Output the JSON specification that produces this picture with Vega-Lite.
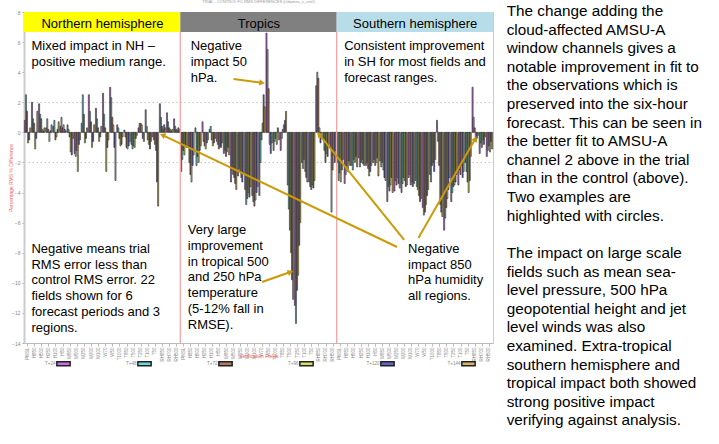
{
"$schema": "https://vega.github.io/schema/vega-lite/v6.json",
"width": 469, "height": 331,
"padding": {"left": 8, "top": 0, "right": 0, "bottom": 0},
"background": "white",
"title": {"text": "TRIAL - CONTROL FC RMS DIFFERENCES (cldamsu_v_cntrl)", "fontSize": 4, "color": "#999", "fontWeight": "normal", "offset": 0, "anchor": "middle"},
"config": {"view": {"stroke": "#ccc"}, "font": "Liberation Sans", "axis": {"labelOverlap": false}},
"datasets": {
"bars": [
{"field":"NH PMSL","period":"T+24","value":0.8},{"field":"NH PMSL","period":"T+48","value":2.5},{"field":"NH PMSL","period":"T+72","value":1.4},{"field":"NH PMSL","period":"T+96","value":-0.7},{"field":"NH PMSL","period":"T+120","value":-0.5},{"field":"NH PMSL","period":"T+144","value":0.3},
{"field":"NH H850","period":"T+24","value":2.0},{"field":"NH H850","period":"T+48","value":0.9},{"field":"NH H850","period":"T+72","value":0.6},{"field":"NH H850","period":"T+96","value":-1.1},{"field":"NH H850","period":"T+120","value":-0.4},{"field":"NH H850","period":"T+144","value":1.4},
{"field":"NH H500","period":"T+24","value":1.9},{"field":"NH H500","period":"T+48","value":1.2},{"field":"NH H500","period":"T+72","value":0.9},{"field":"NH H500","period":"T+96","value":0.2},{"field":"NH H500","period":"T+120","value":0.1},{"field":"NH H500","period":"T+144","value":0.3},
{"field":"NH H250","period":"T+24","value":0.3},{"field":"NH H250","period":"T+48","value":0.9},{"field":"NH H250","period":"T+72","value":0.2},{"field":"NH H250","period":"T+96","value":-0.6},{"field":"NH H250","period":"T+120","value":0.1},{"field":"NH H250","period":"T+144","value":0.5},
{"field":"NH H100","period":"T+24","value":0.4},{"field":"NH H100","period":"T+48","value":0.8},{"field":"NH H100","period":"T+72","value":-0.5},{"field":"NH H100","period":"T+96","value":-0.3},{"field":"NH H100","period":"T+120","value":0.2},{"field":"NH H100","period":"T+144","value":0.7},
{"field":"NH H50","period":"T+24","value":0.4},{"field":"NH H50","period":"T+48","value":1.0},{"field":"NH H50","period":"T+72","value":0.3},{"field":"NH H50","period":"T+96","value":0.5},{"field":"NH H50","period":"T+120","value":0.2},{"field":"NH H50","period":"T+144","value":0.1},
{"field":"NH W850","period":"T+24","value":0.5},{"field":"NH W850","period":"T+48","value":0.2},{"field":"NH W850","period":"T+72","value":-0.3},{"field":"NH W850","period":"T+96","value":-1.3},{"field":"NH W850","period":"T+120","value":-1.5},{"field":"NH W850","period":"T+144","value":-0.4},
{"field":"NH W500","period":"T+24","value":-1.4},{"field":"NH W500","period":"T+48","value":-1.6},{"field":"NH W500","period":"T+72","value":-1.2},{"field":"NH W500","period":"T+96","value":-2.6},{"field":"NH W500","period":"T+120","value":-0.8},{"field":"NH W500","period":"T+144","value":-0.5},
{"field":"NH W250","period":"T+24","value":0.6},{"field":"NH W250","period":"T+48","value":2.5},{"field":"NH W250","period":"T+72","value":1.2},{"field":"NH W250","period":"T+96","value":-0.7},{"field":"NH W250","period":"T+120","value":-0.4},{"field":"NH W250","period":"T+144","value":0.3},
{"field":"NH W200","period":"T+24","value":2.5},{"field":"NH W200","period":"T+48","value":1.4},{"field":"NH W200","period":"T+72","value":0.7},{"field":"NH W200","period":"T+96","value":-1.0},{"field":"NH W200","period":"T+120","value":-0.6},{"field":"NH W200","period":"T+144","value":0.5},
{"field":"NH W100","period":"T+24","value":1.6},{"field":"NH W100","period":"T+48","value":0.9},{"field":"NH W100","period":"T+72","value":0.3},{"field":"NH W100","period":"T+96","value":-0.6},{"field":"NH W100","period":"T+120","value":-0.3},{"field":"NH W100","period":"T+144","value":0.4},
{"field":"NH W70","period":"T+24","value":2.6},{"field":"NH W70","period":"T+48","value":1.2},{"field":"NH W70","period":"T+72","value":0.3},{"field":"NH W70","period":"T+96","value":-2.6},{"field":"NH W70","period":"T+120","value":-1.0},{"field":"NH W70","period":"T+144","value":-0.5},
{"field":"NH W50","period":"T+24","value":3.0},{"field":"NH W50","period":"T+48","value":2.3},{"field":"NH W50","period":"T+72","value":1.0},{"field":"NH W50","period":"T+96","value":0.5},{"field":"NH W50","period":"T+120","value":-1.0},{"field":"NH W50","period":"T+144","value":-3.2},
{"field":"NH T1000","period":"T+24","value":0.5},{"field":"NH T1000","period":"T+48","value":0.3},{"field":"NH T1000","period":"T+72","value":-0.4},{"field":"NH T1000","period":"T+96","value":-0.9},{"field":"NH T1000","period":"T+120","value":-0.8},{"field":"NH T1000","period":"T+144","value":-0.3},
{"field":"NH T850","period":"T+24","value":0.15},{"field":"NH T850","period":"T+48","value":-0.3},{"field":"NH T850","period":"T+72","value":-1.0},{"field":"NH T850","period":"T+96","value":-1.1},{"field":"NH T850","period":"T+120","value":-0.9},{"field":"NH T850","period":"T+144","value":-0.6},
{"field":"NH T500","period":"T+24","value":-0.8},{"field":"NH T500","period":"T+48","value":-1.1},{"field":"NH T500","period":"T+72","value":-0.9},{"field":"NH T500","period":"T+96","value":-1.0},{"field":"NH T500","period":"T+120","value":-0.4},{"field":"NH T500","period":"T+144","value":-0.2},
{"field":"NH T250","period":"T+24","value":0.3},{"field":"NH T250","period":"T+48","value":0.6},{"field":"NH T250","period":"T+72","value":0.6},{"field":"NH T250","period":"T+96","value":0.5},{"field":"NH T250","period":"T+120","value":-0.4},{"field":"NH T250","period":"T+144","value":-0.6},
{"field":"NH T100","period":"T+24","value":1.5},{"field":"NH T100","period":"T+48","value":0.4},{"field":"NH T100","period":"T+72","value":-0.5},{"field":"NH T100","period":"T+96","value":-0.8},{"field":"NH T100","period":"T+120","value":-1.1},{"field":"NH T100","period":"T+144","value":-0.6},
{"field":"NH T50","period":"T+24","value":-0.3},{"field":"NH T50","period":"T+48","value":-0.5},{"field":"NH T50","period":"T+72","value":-0.8},{"field":"NH T50","period":"T+96","value":-1.2},{"field":"NH T50","period":"T+120","value":-3.3},{"field":"NH T50","period":"T+144","value":-4.9},
{"field":"NH RH850","period":"T+24","value":1.9},{"field":"NH RH850","period":"T+48","value":1.0},{"field":"NH RH850","period":"T+72","value":0.4},{"field":"NH RH850","period":"T+96","value":0.2},{"field":"NH RH850","period":"T+120","value":0.5},{"field":"NH RH850","period":"T+144","value":0.3},
{"field":"NH RH700","period":"T+24","value":1.3},{"field":"NH RH700","period":"T+48","value":0.7},{"field":"NH RH700","period":"T+72","value":0.3},{"field":"NH RH700","period":"T+96","value":0.2},{"field":"NH RH700","period":"T+120","value":0.1},{"field":"NH RH700","period":"T+144","value":0.2},
{"field":"NH RH500","period":"T+24","value":0.9},{"field":"NH RH500","period":"T+48","value":0.4},{"field":"NH RH500","period":"T+72","value":0.2},{"field":"NH RH500","period":"T+96","value":0.1},{"field":"NH RH500","period":"T+120","value":0.3},{"field":"NH RH500","period":"T+144","value":0.2},
{"field":"TR PMSL","period":"T+24","value":-2.6},{"field":"TR PMSL","period":"T+48","value":-1.8},{"field":"TR PMSL","period":"T+72","value":-1.2},{"field":"TR PMSL","period":"T+96","value":-1.5},{"field":"TR PMSL","period":"T+120","value":-0.8},{"field":"TR PMSL","period":"T+144","value":-1.0},
{"field":"TR H850","period":"T+24","value":-1.0},{"field":"TR H850","period":"T+48","value":-2.0},{"field":"TR H850","period":"T+72","value":-2.8},{"field":"TR H850","period":"T+96","value":-3.3},{"field":"TR H850","period":"T+120","value":-2.2},{"field":"TR H850","period":"T+144","value":-1.5},
{"field":"TR H500","period":"T+24","value":0.3},{"field":"TR H500","period":"T+48","value":-2.2},{"field":"TR H500","period":"T+72","value":-1.6},{"field":"TR H500","period":"T+96","value":-2.0},{"field":"TR H500","period":"T+120","value":-1.2},{"field":"TR H500","period":"T+144","value":-0.9},
{"field":"TR H250","period":"T+24","value":0.7},{"field":"TR H250","period":"T+48","value":-0.6},{"field":"TR H250","period":"T+72","value":-0.9},{"field":"TR H250","period":"T+96","value":-1.1},{"field":"TR H250","period":"T+120","value":-0.7},{"field":"TR H250","period":"T+144","value":-0.5},
{"field":"TR H100","period":"T+24","value":0.2},{"field":"TR H100","period":"T+48","value":0.4},{"field":"TR H100","period":"T+72","value":-0.5},{"field":"TR H100","period":"T+96","value":-0.9},{"field":"TR H100","period":"T+120","value":-0.7},{"field":"TR H100","period":"T+144","value":-0.4},
{"field":"TR H50","period":"T+24","value":-0.6},{"field":"TR H50","period":"T+48","value":-0.8},{"field":"TR H50","period":"T+72","value":-1.1},{"field":"TR H50","period":"T+96","value":-0.9},{"field":"TR H50","period":"T+120","value":-1.0},{"field":"TR H50","period":"T+144","value":-0.7},
{"field":"TR W850","period":"T+24","value":-1.4},{"field":"TR W850","period":"T+48","value":-1.2},{"field":"TR W850","period":"T+72","value":-1.6},{"field":"TR W850","period":"T+96","value":-1.3},{"field":"TR W850","period":"T+120","value":-1.0},{"field":"TR W850","period":"T+144","value":-1.5},
{"field":"TR W500","period":"T+24","value":-3.3},{"field":"TR W500","period":"T+48","value":-2.5},{"field":"TR W500","period":"T+72","value":-2.8},{"field":"TR W500","period":"T+96","value":-3.0},{"field":"TR W500","period":"T+120","value":-3.4},{"field":"TR W500","period":"T+144","value":-3.8},
{"field":"TR W250","period":"T+24","value":-2.9},{"field":"TR W250","period":"T+48","value":-2.4},{"field":"TR W250","period":"T+72","value":-2.6},{"field":"TR W250","period":"T+96","value":-3.0},{"field":"TR W250","period":"T+120","value":-3.3},{"field":"TR W250","period":"T+144","value":-2.7},
{"field":"TR W200","period":"T+24","value":-3.8},{"field":"TR W200","period":"T+48","value":-4.8},{"field":"TR W200","period":"T+72","value":-4.4},{"field":"TR W200","period":"T+96","value":-4.0},{"field":"TR W200","period":"T+120","value":-4.3},{"field":"TR W200","period":"T+144","value":-3.6},
{"field":"TR W100","period":"T+24","value":-4.2},{"field":"TR W100","period":"T+48","value":-4.6},{"field":"TR W100","period":"T+72","value":-4.9},{"field":"TR W100","period":"T+96","value":-4.5},{"field":"TR W100","period":"T+120","value":-4.0},{"field":"TR W100","period":"T+144","value":-3.6},
{"field":"TR W70","period":"T+24","value":-4.2},{"field":"TR W70","period":"T+48","value":-2.0},{"field":"TR W70","period":"T+72","value":-0.5},{"field":"TR W70","period":"T+96","value":0.6},{"field":"TR W70","period":"T+120","value":2.5},{"field":"TR W70","period":"T+144","value":1.7},
{"field":"TR W50","period":"T+24","value":6.6},{"field":"TR W50","period":"T+48","value":5.5},{"field":"TR W50","period":"T+72","value":2.9},{"field":"TR W50","period":"T+96","value":-0.8},{"field":"TR W50","period":"T+120","value":-1.4},{"field":"TR W50","period":"T+144","value":-0.7},
{"field":"TR T1000","period":"T+24","value":-1.2},{"field":"TR T1000","period":"T+48","value":-0.6},{"field":"TR T1000","period":"T+72","value":-0.4},{"field":"TR T1000","period":"T+96","value":-0.8},{"field":"TR T1000","period":"T+120","value":0.3},{"field":"TR T1000","period":"T+144","value":-0.5},
{"field":"TR T850","period":"T+24","value":-1.2},{"field":"TR T850","period":"T+48","value":-0.4},{"field":"TR T850","period":"T+72","value":0.2},{"field":"TR T850","period":"T+96","value":0.5},{"field":"TR T850","period":"T+120","value":0.8},{"field":"TR T850","period":"T+144","value":1.4},
{"field":"TR T500","period":"T+24","value":-3.5},{"field":"TR T500","period":"T+48","value":-5.1},{"field":"TR T500","period":"T+72","value":-6.5},{"field":"TR T500","period":"T+96","value":-8.0},{"field":"TR T500","period":"T+120","value":-9.8},{"field":"TR T500","period":"T+144","value":-11.1},
{"field":"TR T250","period":"T+24","value":-11.5},{"field":"TR T250","period":"T+48","value":-12.7},{"field":"TR T250","period":"T+72","value":-10.5},{"field":"TR T250","period":"T+96","value":-9.5},{"field":"TR T250","period":"T+120","value":-7.5},{"field":"TR T250","period":"T+144","value":-6.0},
{"field":"TR T100","period":"T+24","value":-2.0},{"field":"TR T100","period":"T+48","value":-2.4},{"field":"TR T100","period":"T+72","value":-1.8},{"field":"TR T100","period":"T+96","value":-2.6},{"field":"TR T100","period":"T+120","value":-3.0},{"field":"TR T100","period":"T+144","value":-3.3},
{"field":"TR T50","period":"T+24","value":-3.3},{"field":"TR T50","period":"T+48","value":-3.6},{"field":"TR T50","period":"T+72","value":-3.8},{"field":"TR T50","period":"T+96","value":-3.5},{"field":"TR T50","period":"T+120","value":-3.7},{"field":"TR T50","period":"T+144","value":-3.2},
{"field":"TR RH850","period":"T+24","value":3.1},{"field":"TR RH850","period":"T+48","value":4.0},{"field":"TR RH850","period":"T+72","value":3.6},{"field":"TR RH850","period":"T+96","value":0.3},{"field":"TR RH850","period":"T+120","value":-0.7},{"field":"TR RH850","period":"T+144","value":-0.4},
{"field":"TR RH700","period":"T+24","value":-0.5},{"field":"TR RH700","period":"T+48","value":-1.2},{"field":"TR RH700","period":"T+72","value":-2.0},{"field":"TR RH700","period":"T+96","value":-1.4},{"field":"TR RH700","period":"T+120","value":-1.6},{"field":"TR RH700","period":"T+144","value":-0.8},
{"field":"TR RH500","period":"T+24","value":-1.0},{"field":"TR RH500","period":"T+48","value":-5.3},{"field":"TR RH500","period":"T+72","value":-2.5},{"field":"TR RH500","period":"T+96","value":-1.5},{"field":"TR RH500","period":"T+120","value":-2.0},{"field":"TR RH500","period":"T+144","value":-1.2},
{"field":"SH PMSL","period":"T+24","value":-2.0},{"field":"SH PMSL","period":"T+48","value":-3.2},{"field":"SH PMSL","period":"T+72","value":-2.7},{"field":"SH PMSL","period":"T+96","value":-3.3},{"field":"SH PMSL","period":"T+120","value":-2.5},{"field":"SH PMSL","period":"T+144","value":-1.8},
{"field":"SH H850","period":"T+24","value":-3.4},{"field":"SH H850","period":"T+48","value":-2.8},{"field":"SH H850","period":"T+72","value":-2.2},{"field":"SH H850","period":"T+96","value":-2.6},{"field":"SH H850","period":"T+120","value":-1.9},{"field":"SH H850","period":"T+144","value":-2.2},
{"field":"SH H500","period":"T+24","value":-2.2},{"field":"SH H500","period":"T+48","value":-2.5},{"field":"SH H500","period":"T+72","value":-1.8},{"field":"SH H500","period":"T+96","value":-2.0},{"field":"SH H500","period":"T+120","value":-1.6},{"field":"SH H500","period":"T+144","value":-2.3},
{"field":"SH H250","period":"T+24","value":-1.7},{"field":"SH H250","period":"T+48","value":-2.3},{"field":"SH H250","period":"T+72","value":-2.0},{"field":"SH H250","period":"T+96","value":-1.8},{"field":"SH H250","period":"T+120","value":-2.1},{"field":"SH H250","period":"T+144","value":-2.2},
{"field":"SH H100","period":"T+24","value":-2.2},{"field":"SH H100","period":"T+48","value":-2.0},{"field":"SH H100","period":"T+72","value":-2.4},{"field":"SH H100","period":"T+96","value":-2.9},{"field":"SH H100","period":"T+120","value":-2.6},{"field":"SH H100","period":"T+144","value":-2.2},
{"field":"SH H50","period":"T+24","value":-2.0},{"field":"SH H50","period":"T+48","value":-1.8},{"field":"SH H50","period":"T+72","value":-2.2},{"field":"SH H50","period":"T+96","value":-2.0},{"field":"SH H50","period":"T+120","value":-1.7},{"field":"SH H50","period":"T+144","value":-2.9},
{"field":"SH W850","period":"T+24","value":-1.9},{"field":"SH W850","period":"T+48","value":-2.3},{"field":"SH W850","period":"T+72","value":-2.0},{"field":"SH W850","period":"T+96","value":-2.5},{"field":"SH W850","period":"T+120","value":-3.0},{"field":"SH W850","period":"T+144","value":-3.2},
{"field":"SH W500","period":"T+24","value":-4.6},{"field":"SH W500","period":"T+48","value":-3.6},{"field":"SH W500","period":"T+72","value":-3.9},{"field":"SH W500","period":"T+96","value":-3.5},{"field":"SH W500","period":"T+120","value":-3.0},{"field":"SH W500","period":"T+144","value":-4.0},
{"field":"SH W250","period":"T+24","value":-3.9},{"field":"SH W250","period":"T+48","value":-3.2},{"field":"SH W250","period":"T+72","value":-3.5},{"field":"SH W250","period":"T+96","value":-3.0},{"field":"SH W250","period":"T+120","value":-3.4},{"field":"SH W250","period":"T+144","value":-3.7},
{"field":"SH W200","period":"T+24","value":-4.0},{"field":"SH W200","period":"T+48","value":-3.4},{"field":"SH W200","period":"T+72","value":-3.0},{"field":"SH W200","period":"T+96","value":-3.2},{"field":"SH W200","period":"T+120","value":-3.6},{"field":"SH W200","period":"T+144","value":-3.5},
{"field":"SH W100","period":"T+24","value":-3.0},{"field":"SH W100","period":"T+48","value":-2.8},{"field":"SH W100","period":"T+72","value":-3.5},{"field":"SH W100","period":"T+96","value":-3.3},{"field":"SH W100","period":"T+120","value":-3.6},{"field":"SH W100","period":"T+144","value":-3.4},
{"field":"SH W70","period":"T+24","value":-3.2},{"field":"SH W70","period":"T+48","value":-3.6},{"field":"SH W70","period":"T+72","value":-3.8},{"field":"SH W70","period":"T+96","value":-4.2},{"field":"SH W70","period":"T+120","value":-4.6},{"field":"SH W70","period":"T+144","value":-4.4},
{"field":"SH W50","period":"T+24","value":-5.0},{"field":"SH W50","period":"T+48","value":-5.5},{"field":"SH W50","period":"T+72","value":-5.3},{"field":"SH W50","period":"T+96","value":-4.8},{"field":"SH W50","period":"T+120","value":-4.2},{"field":"SH W50","period":"T+144","value":-3.8},
{"field":"SH T1000","period":"T+24","value":-2.8},{"field":"SH T1000","period":"T+48","value":-3.3},{"field":"SH T1000","period":"T+72","value":-2.2},{"field":"SH T1000","period":"T+96","value":-2.0},{"field":"SH T1000","period":"T+120","value":-2.6},{"field":"SH T1000","period":"T+144","value":-1.8},
{"field":"SH T850","period":"T+24","value":0.8},{"field":"SH T850","period":"T+48","value":-0.6},{"field":"SH T850","period":"T+72","value":-2.2},{"field":"SH T850","period":"T+96","value":-4.8},{"field":"SH T850","period":"T+120","value":-5.3},{"field":"SH T850","period":"T+144","value":-5.6},
{"field":"SH T500","period":"T+24","value":-6.5},{"field":"SH T500","period":"T+48","value":-5.7},{"field":"SH T500","period":"T+72","value":-5.0},{"field":"SH T500","period":"T+96","value":-4.4},{"field":"SH T500","period":"T+120","value":-3.8},{"field":"SH T500","period":"T+144","value":-3.0},
{"field":"SH T250","period":"T+24","value":-4.6},{"field":"SH T250","period":"T+48","value":-4.0},{"field":"SH T250","period":"T+72","value":-3.6},{"field":"SH T250","period":"T+96","value":-3.5},{"field":"SH T250","period":"T+120","value":-3.3},{"field":"SH T250","period":"T+144","value":-2.8},
{"field":"SH T100","period":"T+24","value":-3.5},{"field":"SH T100","period":"T+48","value":-2.5},{"field":"SH T100","period":"T+72","value":-2.8},{"field":"SH T100","period":"T+96","value":-2.2},{"field":"SH T100","period":"T+120","value":-3.0},{"field":"SH T100","period":"T+144","value":-2.6},
{"field":"SH T50","period":"T+24","value":-2.0},{"field":"SH T50","period":"T+48","value":-2.6},{"field":"SH T50","period":"T+72","value":-3.3},{"field":"SH T50","period":"T+96","value":-4.0},{"field":"SH T50","period":"T+120","value":-3.2},{"field":"SH T50","period":"T+144","value":-1.6},
{"field":"SH RH850","period":"T+24","value":3.0},{"field":"SH RH850","period":"T+48","value":1.0},{"field":"SH RH850","period":"T+72","value":0.3},{"field":"SH RH850","period":"T+96","value":-0.6},{"field":"SH RH850","period":"T+120","value":-0.4},{"field":"SH RH850","period":"T+144","value":-0.2},
{"field":"SH RH700","period":"T+24","value":-1.4},{"field":"SH RH700","period":"T+48","value":-0.7},{"field":"SH RH700","period":"T+72","value":-1.0},{"field":"SH RH700","period":"T+96","value":-0.5},{"field":"SH RH700","period":"T+120","value":-0.8},{"field":"SH RH700","period":"T+144","value":-0.3},
{"field":"SH RH500","period":"T+24","value":-1.6},{"field":"SH RH500","period":"T+48","value":-1.2},{"field":"SH RH500","period":"T+72","value":-0.9},{"field":"SH RH500","period":"T+96","value":-1.3},{"field":"SH RH500","period":"T+120","value":-0.6},{"field":"SH RH500","period":"T+144","value":-1.1}
],
"regions": [
{"region":"Northern hemisphere","first":"NH PMSL","last":"NH RH500","mid":"NH W70"},
{"region":"Tropics","first":"TR PMSL","last":"TR RH500","mid":"TR W70"},
{"region":"Southern hemisphere","first":"SH PMSL","last":"SH RH500","mid":"SH W70"}
],
"notes": [
{"key":"NH H850","y":5.47,"text":"Mixed impact in NH –\npositive medium range."},
{"key":"SH H850","y":5.47,"text":"Consistent improvement\nin SH for most fields and\nforecast ranges."},
{"key":"NH H850","y":-8.0,"text":"Negative means trial\nRMS error less than\ncontrol RMS error. 22\nfields shown for 6\nforecast periods and 3\nregions."},
{"key":"TR H850","y":-6.76,"text":"Very large\nimprovement\nin tropical 500\nand 250 hPa\ntemperature\n(5-12% fall in\nRMSE)."},
{"key":"SH W100","y":-8.0,"text":"Negative\nimpact 850\nhPa humidity\nall regions."}
],
"side": [
{"key":"SH RH500","y":7.73,"text":"The change adding the\ncloud-affected AMSU-A\nwindow channels gives a\nnotable improvement in fit to\nthe observations which is\npreserved into the six-hour\nforecast. This can be seen in\nthe better fit to AMSU-A\nchannel 2 above in the trial\nthan in the control (above).\nTwo examples are\nhighlighted with circles."},
{"key":"SH RH500","y":-8.35,"text":"The impact on large scale\nfields such as mean sea-\nlevel pressure, 500 hPa\ngeopotential height and jet\nlevel winds was also\nexamined. Extra-tropical\nsouthern hemisphere and\ntropical impact both showed\nstrong positive impact\nverifying against analysis."}
],
"arrows": [
{"from":"TR W500","y1":3.55,"to":"TR W70","y2":3.29},
{"from":"TR W70","y1":-9.95,"to":"TR T500","y2":-9.28},
{"from":"SH W250","y1":-7.62,"to":"NH RH850","y2":-0.18},
{"from":"SH W200","y1":-7.15,"to":"TR RH850","y2":-0.11},
{"from":"SH W70","y1":-7.02,"to":"SH RH850","y2":-0.44}
]
},
"layer": [
{
"data": {"name": "bars"},
"mark": {"type": "bar", "stroke": "#222", "strokeWidth": 0.6},
"encoding": {
"x": {"field": "field", "type": "nominal", "sort": null,
"scale": {"domain": ["NH PMSL","NH H850","NH H500","NH H250","NH H100","NH H50","NH W850","NH W500","NH W250","NH W200","NH W100","NH W70","NH W50","NH T1000","NH T850","NH T500","NH T250","NH T100","NH T50","NH RH850","NH RH700","NH RH500","TR PMSL","TR H850","TR H500","TR H250","TR H100","TR H50","TR W850","TR W500","TR W250","TR W200","TR W100","TR W70","TR W50","TR T1000","TR T850","TR T500","TR T250","TR T100","TR T50","TR RH850","TR RH700","TR RH500","SH PMSL","SH H850","SH H500","SH H250","SH H100","SH H50","SH W850","SH W500","SH W250","SH W200","SH W100","SH W70","SH W50","SH T1000","SH T850","SH T500","SH T250","SH T100","SH T50","SH RH850","SH RH700","SH RH500"], "paddingInner": 0.1, "paddingOuter": 0.05},
"axis": {"title": "Verification Fields", "titleColor": "#F05A5A", "titleFontSize": 5, "titleFontWeight": "normal", "titlePadding": 0, "labelFontSize": 4.5, "labelColor": "#888", "labelAngle": -90, "labelExpr": "split(datum.label, ' ')[1]", "labelPadding": 1, "labelOverlap": false, "tickSize": 3, "tickColor": "#bbb", "domainColor": "#bbb", "minExtent": 10, "maxExtent": 10}},
"xOffset": {"field": "period", "type": "nominal", "scale": {"domain": ["T+24","T+48","T+72","T+96","T+120","T+144"], "paddingInner": 0, "paddingOuter": 0}},
"y": {"field": "value", "type": "quantitative",
"scale": {"domain": [-14, 8], "nice": false, "zero": false},
"axis": {"values": [-14,-12,-10,-8,-6,-4,-2,0,2,4,6,8], "tickCount": 24, "labelOverlap": false, "title": "Percentage RMS % Difference", "titleColor": "#F05A5A", "titleFontSize": 5, "titleFontWeight": "normal", "titlePadding": 0, "labelFontSize": 5, "labelColor": "#888", "labelPadding": 2, "tickSize": 2, "tickColor": "#aaa", "domainColor": "#ccc", "domainWidth": 2, "minExtent": 11, "maxExtent": 11, "grid": true, "gridColor": "#c4c4c4", "gridDash": [1.5, 2.5], "gridOpacity": {"condition": {"test": "abs(datum.value) == 2", "value": 1}, "value": 0}}},
"color": {"field": "period", "type": "nominal",
"scale": {"domain": ["T+24","T+48","T+72","T+96","T+120","T+144"], "range": ["#C86EE0","#6ED8D8","#B4785A","#DCDC64","#6464C8","#DCB464"]},
"legend": {"orient": "none", "legendX": 32, "legendY": 344, "direction": "horizontal", "columns": 6, "title": null, "padding": 0, "symbolType": "M-1,-0.3H1V0.3H-1Z", "symbolSize": 177, "labelFontSize": 4.5, "labelColor": "#888", "labelAlign": "right", "labelOffset": -15.5, "columnPadding": 49, "gridAlign": "all", "encode": {"symbols": {"update": {"fill": {"scale": "color", "field": "value"}, "stroke": {"value": "#999"}, "strokeWidth": {"value": 0.5}, "opacity": {"value": 1}}}}}}
}
},
{
"data": {"name": "regions"},
"transform": [{"filter": "datum.region != 'Northern hemisphere'"}],
"mark": {"type": "rule", "color": "#F4A6A6", "strokeWidth": 1.3},
"encoding": {
"x": {"field": "first", "type": "nominal", "bandPosition": -0.06},
"y": {"datum": 6.67},
"y2": {"datum": -14}
}
},
{
"mark": {"type": "rule", "color": "#8a8a8a", "strokeWidth": 1},
"encoding": {"y": {"datum": 0}}
},
{
"data": {"name": "regions"},
"mark": {"type": "rect"},
"encoding": {
"x": {"field": "first", "type": "nominal", "bandPosition": -0.06},
"x2": {"field": "last", "bandPosition": 1.06},
"y": {"datum": 8},
"y2": {"datum": 6.67},
"fill": {"field": "region", "type": "nominal", "legend": null,
"scale": {"domain": ["Northern hemisphere","Tropics","Southern hemisphere"], "range": ["#FFFF00","#808080","#B7DEE8"]}}
}
},
{
"data": {"name": "regions"},
"mark": {"type": "text", "fontSize": 13, "align": "center", "baseline": "alphabetic", "color": "#000"},
"encoding": {
"x": {"field": "mid", "type": "nominal", "bandPosition": 0},
"y": {"datum": 6.94},
"text": {"field": "region"}
}
},
{
"data": {"name": "notes"},
"mark": {"type": "text", "fontSize": 13, "align": "left", "baseline": "alphabetic", "lineBreak": "\n", "lineHeight": 15.8, "color": "#000"},
"encoding": {
"x": {"field": "key", "type": "nominal", "bandPosition": 0},
"y": {"field": "y", "type": "quantitative"},
"text": {"field": "text"}
}
},
{
"data": {"values": [{"key": "TR H850", "y": 5.47, "text": "Negative\nimpact 50\nhPa."}]},
"mark": {"type": "text", "fontSize": 13, "align": "left", "baseline": "alphabetic", "lineBreak": "\n", "lineHeight": 15.8, "color": "#000"},
"encoding": {
"x": {"field": "key", "type": "nominal", "bandPosition": 0.45},
"y": {"field": "y", "type": "quantitative"},
"text": {"field": "text"}
}
},
{
"data": {"name": "arrows"},
"mark": {"type": "rule", "color": "#CC9A06", "strokeWidth": 2},
"encoding": {
"x": {"field": "from", "type": "nominal", "bandPosition": 0.5},
"x2": {"field": "to", "bandPosition": 0.5},
"y": {"field": "y1", "type": "quantitative"},
"y2": {"field": "y2"}
}
},
{
"data": {"name": "arrows"},
"transform": [{"filter": "datum.to == 'TR W70'"}],
"mark": {"type": "point", "shape": "triangle-right", "filled": true, "color": "#CC9A06", "opacity": 1, "size": 40, "angle": 8},
"encoding": {"x": {"field": "to", "type": "nominal", "bandPosition": 0.5}, "y": {"field": "y2", "type": "quantitative"}}
},
{
"data": {"name": "arrows"},
"transform": [{"filter": "datum.to == 'TR T500'"}],
"mark": {"type": "point", "shape": "triangle-right", "filled": true, "color": "#CC9A06", "opacity": 1, "size": 40, "angle": 340},
"encoding": {"x": {"field": "to", "type": "nominal", "bandPosition": 0.5}, "y": {"field": "y2", "type": "quantitative"}}
},
{
"data": {"name": "arrows"},
"transform": [{"filter": "datum.to == 'NH RH850'"}],
"mark": {"type": "point", "shape": "triangle-right", "filled": true, "color": "#CC9A06", "opacity": 1, "size": 40, "angle": 205},
"encoding": {"x": {"field": "to", "type": "nominal", "bandPosition": 0.5}, "y": {"field": "y2", "type": "quantitative"}}
},
{
"data": {"name": "arrows"},
"transform": [{"filter": "datum.to == 'TR RH850'"}],
"mark": {"type": "point", "shape": "triangle-right", "filled": true, "color": "#CC9A06", "opacity": 1, "size": 40, "angle": 231},
"encoding": {"x": {"field": "to", "type": "nominal", "bandPosition": 0.5}, "y": {"field": "y2", "type": "quantitative"}}
},
{
"data": {"name": "arrows"},
"transform": [{"filter": "datum.to == 'SH RH850'"}],
"mark": {"type": "point", "shape": "triangle-right", "filled": true, "color": "#CC9A06", "opacity": 1, "size": 40, "angle": 300},
"encoding": {"x": {"field": "to", "type": "nominal", "bandPosition": 0.5}, "y": {"field": "y2", "type": "quantitative"}}
},
{
"data": {"name": "side"},
"mark": {"type": "text", "fontSize": 15.3, "align": "left", "baseline": "alphabetic", "lineBreak": "\n", "lineHeight": 18.6, "color": "#000", "dx": 14},
"encoding": {
"x": {"field": "key", "type": "nominal", "bandPosition": 1},
"y": {"field": "y", "type": "quantitative"},
"text": {"field": "text"}
}
}
]
}
